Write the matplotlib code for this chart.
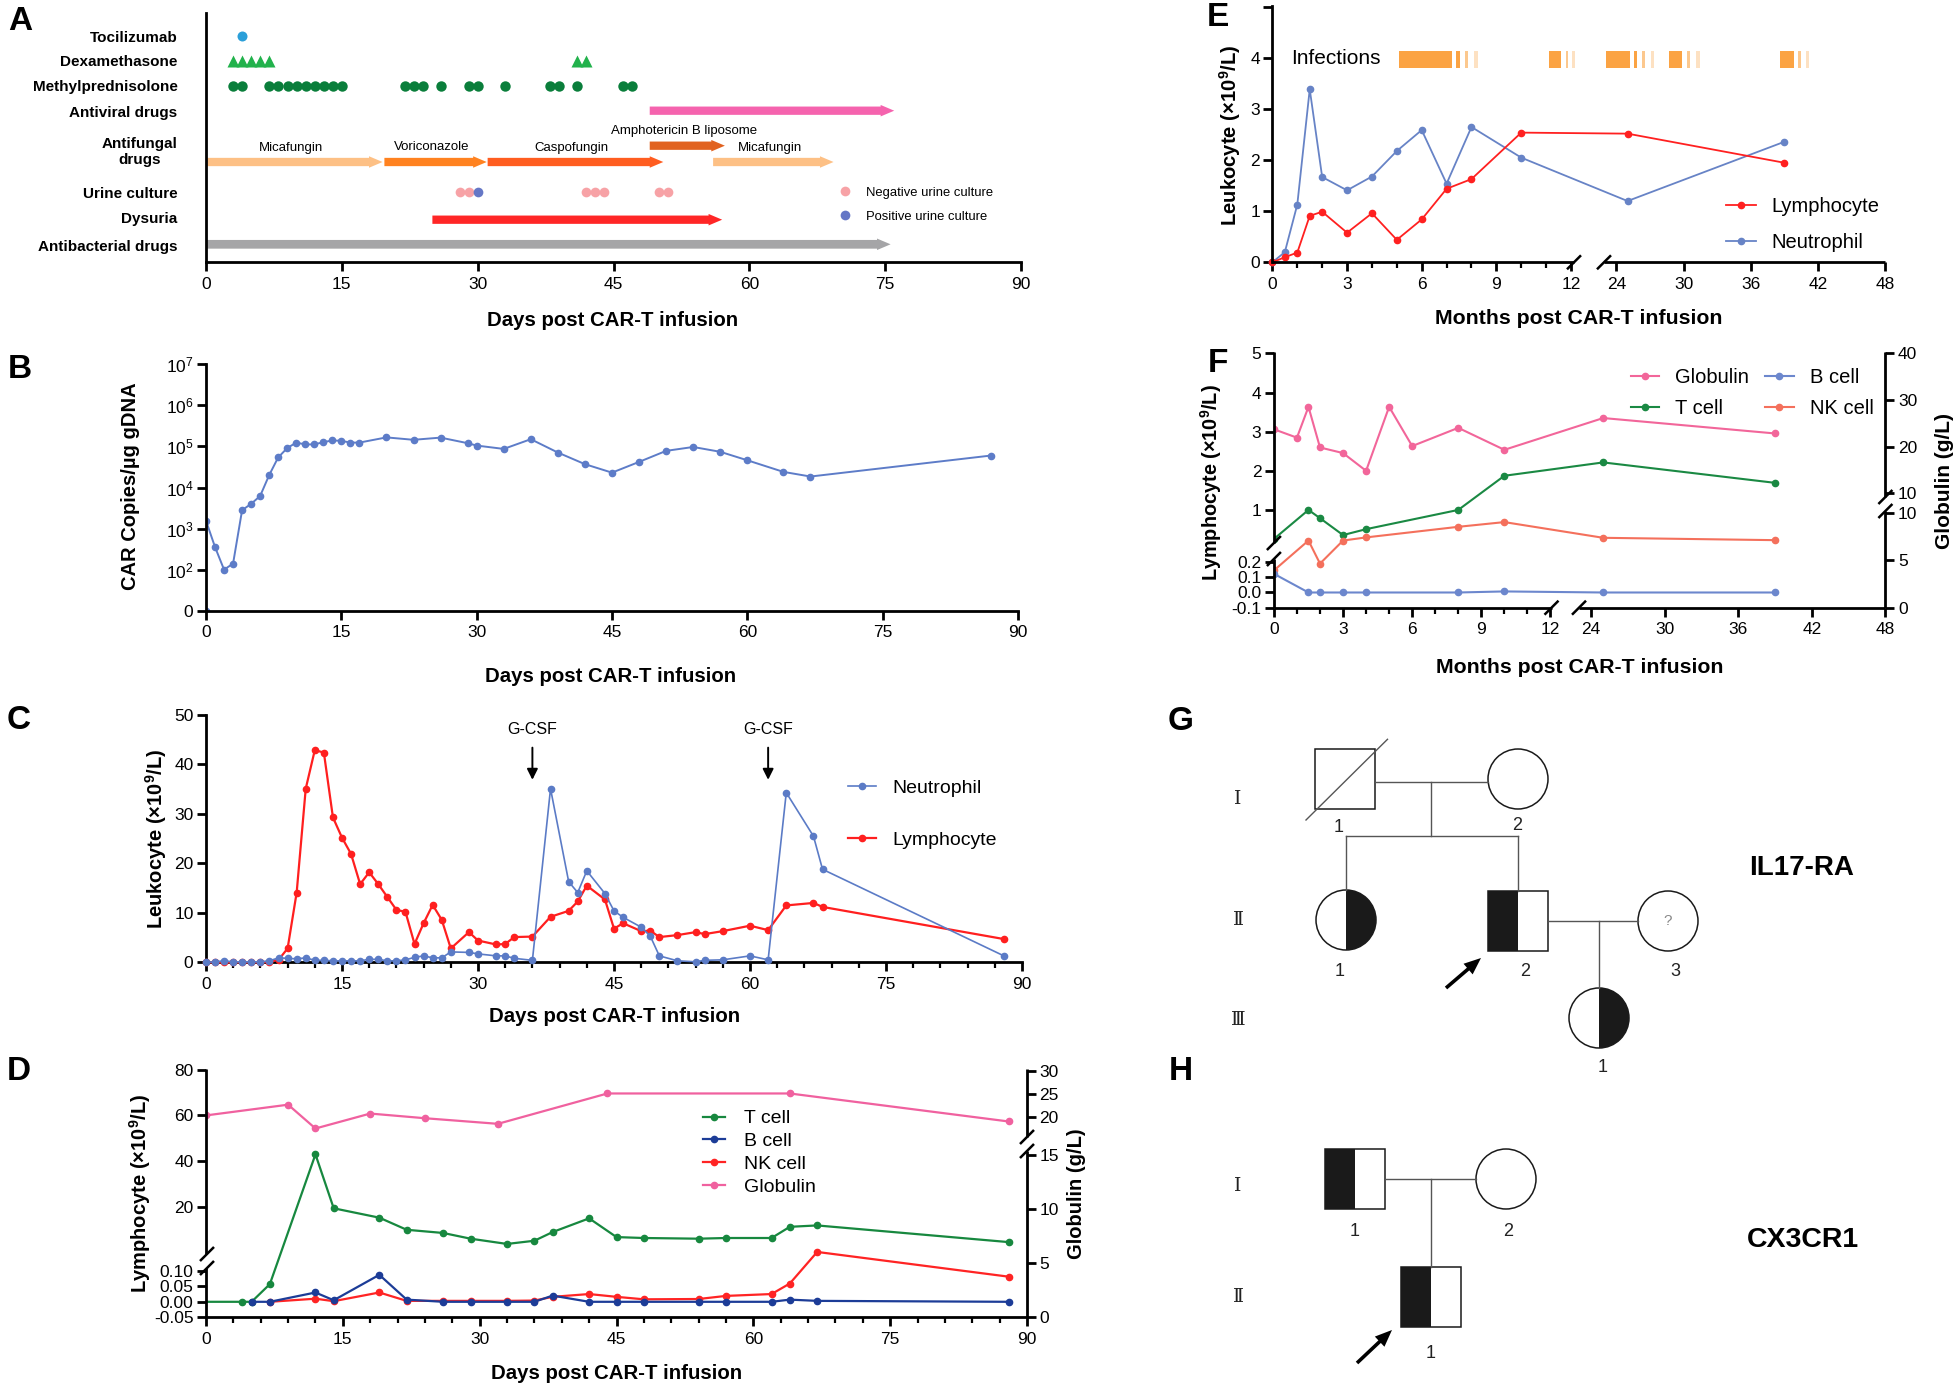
import numpy as np
import matplotlib
matplotlib.use('Agg')
import matplotlib.pyplot as plt
from matplotlib.patches import FancyArrow, Rectangle, Circle, Wedge
from matplotlib.lines import Line2D
from matplotlib.ticker import FixedLocator, NullLocator

plt.rcParams['font.family'] = ['Liberation Sans', 'DejaVu Sans']
plt.rcParams['mathtext.default'] = 'regular'
plt.rcParams['axes.unicode_minus'] = False

# ---------------- DATA ----------------
# Panel A : treatment timeline (days)
a_labels = ['Tocilizumab', 'Dexamethasone', 'Methylprednisolone', 'Antiviral drugs',
            'Antifungal\ndrugs', 'Urine culture', 'Dysuria', 'Antibacterial drugs']
toci_days = [4]
dexa_days = [3, 4, 5, 6, 7, 41, 42]
methyl_days = [3, 4, 7, 8, 9, 10, 11, 12, 13, 14, 15, 22, 23, 24, 26, 29, 30, 33, 38, 39, 41, 46, 47]
antiviral_span = [49, 76]
antifungal_names = ['Micafungin', 'Voriconazole', 'Caspofungin', 'Amphotericin B liposome', 'Micafungin']
antifungal_start = [0, 19.7, 31.1, 49, 56]
antifungal_end = [19.5, 31, 50.5, 57.3, 69.3]
antifungal_upper = [False, False, False, True, False]
urine_neg_days = [28, 29, 42, 43, 44, 50, 51]
urine_pos_days = [30]
dysuria_span = [25, 57]
antibacterial_span = [0, 75.6]

# Panel B : CAR copies
b_days = [0, 0, 1, 2, 3, 4, 5, 6, 7, 8, 9, 10, 11, 12, 13, 14, 15, 16, 17, 20, 23, 26, 29, 30,
          33, 36, 39, 42, 45, 48, 51, 54, 57, 60, 64, 67, 87]
b_copies = [0, 1550, 355, 100, 140, 2800, 4000, 6200, 2.0e4, 5.4e4, 9.1e4, 1.24e5, 1.12e5, 1.12e5,
            1.27e5, 1.4e5, 1.37e5, 1.24e5, 1.24e5, 1.66e5, 1.45e5, 1.64e5, 1.2e5, 1.05e5, 8.7e4,
            1.5e5, 7.1e4, 3.7e4, 2.3e4, 4.2e4, 7.8e4, 9.7e4, 7.4e4, 4.6e4, 2.4e4, 1.85e4, 6.0e4]

# Panel C : leukocytes (days)
c_days = [0, 1, 2, 3, 4, 5, 6, 7, 8, 9, 10, 11, 12, 13, 14, 15, 16, 17, 18, 19, 20, 21, 22, 23, 24,
          25, 26, 27, 29, 30, 32, 33, 34, 36, 38, 40, 41, 42, 44, 45, 46, 48, 49, 50, 52, 54, 55,
          57, 60, 62, 64, 67, 68, 88]
c_lymph = [0, 0, 0, 0, 0, 0, 0, 0.1, 0.5, 2.8, 14.1, 35.1, 42.9, 42.4, 29.3, 25.2, 21.9, 15.8, 18.2,
           15.8, 13.2, 10.6, 10.2, 3.7, 7.9, 11.6, 8.6, 2.8, 6.1, 4.4, 3.6, 3.7, 5.1, 5.2, 9.2, 10.4,
           12.3, 15.5, 12.7, 6.8, 7.9, 6.3, 6.4, 5.1, 5.5, 6.1, 5.7, 6.3, 7.4, 6.5, 11.5, 12.0, 11.2, 4.7]
c_neut = [0, 0.1, 0.3, 0.1, 0.1, 0.1, 0.1, 0.3, 0.9, 0.8, 0.7, 0.9, 0.4, 0.4, 0.3, 0.3, 0.3, 0.3,
          0.6, 0.6, 0.3, 0.3, 0.5, 1.0, 1.3, 0.9, 0.9, 2.1, 2.0, 1.7, 1.3, 1.3, 0.8, 0.4, 35.1,
          16.3, 14.1, 18.5, 13.9, 10.4, 9.1, 7.1, 5.3, 1.3, 0.3, 0.1, 0.4, 0.5, 1.3, 0.5, 34.3,
          25.5, 18.8, 1.3]
gcsf_days = [36, 62]

# Panel D : lymphocyte subsets (days) and globulin
d_t_days = [0, 4, 5, 7, 12, 14, 19, 22, 26, 29, 33, 36, 38, 42, 45, 48, 54, 57, 62, 64, 67, 88]
d_t = [0, 0, 0, 0.057, 42.9, 19.3, 15.2, 9.9, 8.5, 6.0, 3.7, 5.1, 8.9, 14.9, 6.7, 6.3, 6.0, 6.3,
       6.3, 11.2, 11.8, 4.5]
d_b_days = [5, 7, 12, 14, 19, 22, 26, 29, 33, 36, 38, 42, 45, 48, 54, 57, 62, 64, 67, 88]
d_b = [0, 0, 0.030, 0.005, 0.087, 0.007, 0, 0, 0, 0, 0.020, 0, 0, 0, 0, 0, 0, 0.007, 0.003, 0]
d_nk_days = [7, 12, 14, 19, 22, 26, 29, 33, 36, 38, 42, 45, 48, 54, 57, 62, 64, 67, 88]
d_nk = [0, 0.010, 0.002, 0.030, 0.003, 0.003, 0.003, 0.003, 0.004, 0.016, 0.025, 0.016, 0.008,
        0.009, 0.019, 0.025, 0.059, 0.2, 0.081]
d_glob_days = [0, 9, 12, 18, 24, 32, 44, 64, 88]
d_glob = [20.4, 22.7, 17.6, 20.8, 19.8, 18.6, 25.1, 25.1, 19.1]

# Panel E : long-term leukocytes (months)
e_months = [0, 0.5, 1, 1.5, 2, 3, 4, 5, 6, 7, 8, 10, 25, 39]
e_lymph = [0, 0.1, 0.19, 0.91, 0.99, 0.58, 0.96, 0.44, 0.84, 1.44, 1.63, 2.54, 2.52, 1.95]
e_neut = [0, 0.2, 1.13, 3.39, 1.67, 1.41, 1.68, 2.18, 2.59, 1.54, 2.65, 2.05, 1.20, 2.36]
inf_start = [5.10, 7.39, 7.74, 8.11, 11.13, 11.78, 12.03, 23.09, 25.54, 26.29, 27.08,
             28.66, 30.3, 31.09, 38.63, 40.2, 40.94]
inf_end = [7.23, 7.54, 7.86, 8.25, 11.6, 11.88, 12.17, 25.24, 25.85, 26.59, 27.38,
           29.85, 30.6, 31.44, 39.86, 40.5, 41.25]
inf_shade = [0, 0, 1, 2, 0, 1, 2, 0, 0, 1, 2, 0, 1, 2, 0, 1, 2]

# Panel F : long-term subsets (months)
f_months = [0, 1.5, 2, 3, 4, 8, 10, 25, 39]
f_t = [0.27, 1.01, 0.80, 0.37, 0.52, 1.01, 1.88, 2.22, 1.70]
f_nk = [0.145, 0.23, 0.19, 0.23, 0.31, 0.58, 0.70, 0.30, 0.24]
f_b = [0.123, 0.0, 0.0, 0.0, 0.0, 0.0, 0.007, 0.0, 0.0]
f_glob_months = [0, 1, 1.5, 2, 3, 4, 5, 6, 8, 10, 25, 39]
f_glob = [23.7, 21.9, 28.5, 19.8, 18.6, 14.8, 28.5, 20.1, 24.0, 19.3, 26.1, 22.8]

# ---------------- FIGURE ----------------
W, H = 1959, 1388
fig = plt.figure(figsize=(W / 100, H / 100), dpi=100)
SPW = 2.0


def rect(l, t, r, b):
    return [l / W, 1 - b / H, (r - l) / W, (b - t) / H]


def fline(x0, y0, x1, y1, lw=SPW, color='k'):
    fig.add_artist(Line2D([x0 / W, x1 / W], [1 - y0 / H, 1 - y1 / H], color=color, lw=lw,
                          solid_capstyle='butt'))


def fslash(xc, yc, w=7, h=7):
    fline(xc - w, yc + h, xc + w, yc - h, lw=1.8)


def ftext(x, y, s, **kw):
    fig.text(x / W, 1 - y / H, s, **kw)


def base_style(ax, hide=('top', 'right')):
    for s in ax.spines:
        ax.spines[s].set_linewidth(SPW)
    for s in hide:
        ax.spines[s].set_visible(False)
    ax.tick_params(which='major', length=6.5, width=SPW, labelsize=12.5, color='k')
    ax.tick_params(which='minor', length=4, width=1.6)
    ax.tick_params(axis='x', pad=4)
    ax.tick_params(axis='y', pad=2.5)
    ax.set_facecolor('none')


# ---------- Panel A ----------
axA = fig.add_axes(rect(206, 13.3, 1021, 262.3))
base_style(axA)
axA.set_xlim(0, 90)
axA.set_ylim(262.3, 13.3)
axA.set_xticks(np.arange(0, 91, 15))
row_label_y = [36, 61, 86, 111, 149.7, 192.3, 217, 245]
axA.set_yticks(row_label_y, labels=a_labels)
axA.tick_params(axis='y', length=0, pad=20.5, labelsize=11)
for t in axA.get_yticklabels():
    t.set_fontweight('bold')
    t.set_multialignment('center')
    t.set_linespacing(1.2)

axA.plot(toci_days, [36] * len(toci_days), 'o', color='#2b9fd9', ms=7.2, mec='none')
axA.plot(dexa_days, [61] * len(dexa_days), '^', color='#22b24c', ms=9, mec='none')
axA.plot(methyl_days, [86] * len(methyl_days), 'o', color='#0a7e3b', ms=7.5, mec='none')


def harrow(x0, x1, y, color, body=8.3, head=11.5, hl=1.5):
    axA.add_patch(FancyArrow(x0, y, x1 - x0, 0, width=body, head_width=head, head_length=hl,
                             length_includes_head=True, color=color, lw=0))


harrow(antiviral_span[0], antiviral_span[1], 110.7, '#f563ae')
af_colors = ['#fdc085', '#ff8220', '#ff5d20', '#e1621f', '#fdc085']
for nm, s, e, up, col in zip(antifungal_names, antifungal_start, antifungal_end,
                             antifungal_upper, af_colors):
    yy = 145.7 if up else 162
    harrow(s, e, yy, col)
    axA.text((s + e) / 2 - 0.4, yy - 14.5, nm, ha='center', va='center', fontsize=9.5)
axA.plot(urine_neg_days, [192.3] * len(urine_neg_days), 'o', color='#f7a2a6', ms=7, mec='none')
axA.plot(urine_pos_days, [192.3] * len(urine_pos_days), 'o', color='#6577c6', ms=7, mec='none')
harrow(dysuria_span[0], dysuria_span[1], 219.7, '#ff2626')
harrow(antibacterial_span[0], antibacterial_span[1], 244.3, '#a5a5a7', body=8.7)
hA = [Line2D([], [], ls='none', marker='o', color='#f7a2a6', ms=7, mec='none'),
      Line2D([], [], ls='none', marker='o', color='#6577c6', ms=7, mec='none')]
axA.legend(hA, ['Negative urine culture', 'Positive urine culture'], loc='center left',
           bbox_to_anchor=(0.776, 0.231), frameon=False, fontsize=9.4, handlelength=1.0,
           handletextpad=1.1, labelspacing=0.9, borderpad=0, borderaxespad=0)
ftext(613, 321, 'Days post CAR-T infusion', ha='center', va='center', fontsize=14.7,
      fontweight='bold')

# ---------- Panel B ----------
axB = fig.add_axes(rect(206, 364.3, 1018, 610.7))
base_style(axB)
axB.set_yscale('log')
axB.set_xlim(0, 90)
axB.set_ylim(10, 1e7)
b_plot = np.where(np.asarray(b_copies) > 0, np.asarray(b_copies, float), 10.0)
axB.plot(b_days, b_plot, '-o', color='#5d7cc8', lw=1.4, ms=4.5)
axB.set_xticks(np.arange(0, 91, 15))
axB.yaxis.set_major_locator(FixedLocator([1e1, 1e2, 1e3, 1e4, 1e5, 1e6, 1e7]))
axB.set_yticklabels(['0', '10$^{2}$', '10$^{3}$', '10$^{4}$', '10$^{5}$', '10$^{6}$', '10$^{7}$'])
axB.yaxis.set_minor_locator(NullLocator())
ftext(130, 486.5, 'CAR Copies/µg gDNA', rotation=90, ha='center', va='center', fontsize=14.5,
      fontweight='bold')
ftext(611, 676.5, 'Days post CAR-T infusion', ha='center', va='center', fontsize=14.7,
      fontweight='bold')

# ---------- Panel C ----------
axC = fig.add_axes(rect(206, 715, 1022, 962.3))
base_style(axC)
axC.set_xlim(0, 90)
axC.set_ylim(0, 50)
axC.set_xticks(np.arange(0, 91, 15))
axC.set_xticks(np.arange(0, 91, 3), minor=True)
axC.set_yticks(np.arange(0, 51, 10))
axC.plot(c_days, c_lymph, '-o', color='#ff1f1f', lw=1.6, ms=4.5, clip_on=False, zorder=3)
axC.plot(c_days, c_neut, '-o', color='#5b7bc6', lw=1.2, ms=4.5, clip_on=False, zorder=3)
for d in gcsf_days:
    axC.annotate('', xy=(d, 36.9), xytext=(d, 43.4),
                 arrowprops=dict(arrowstyle='-|>', color='k', lw=1.4, mutation_scale=16,
                                 shrinkA=0, shrinkB=0))
    axC.text(d, 47.0, 'G-CSF', ha='center', va='center', fontsize=11.5)
hC = [Line2D([], [], color='#5b7bc6', marker='o', lw=1.2, ms=4.5),
      Line2D([], [], color='#ff1f1f', marker='o', lw=1.6, ms=4.5)]
axC.legend(hC, ['Neutrophil', 'Lymphocyte'], loc='center left', bbox_to_anchor=(0.787, 0.60),
           frameon=False, fontsize=14, handlelength=1.45, handletextpad=0.8, labelspacing=1.75,
           borderpad=0, borderaxespad=0)
ftext(156, 839, 'Leukocyte (×10$^{9}$/L)', rotation=90, ha='center', va='center',
      fontsize=14.5, fontweight='bold')
ftext(615, 1016.7, 'Days post CAR-T infusion', ha='center', va='center', fontsize=14.7,
      fontweight='bold')


# ---------- Panel D ----------
def dL_f(v):
    v = np.asarray(v, float)
    return np.where(v <= 0.12, (v + 0.05) * 310.0, 64.9 + v * 2.285)


def dL_i(u):
    u = np.asarray(u, float)
    return np.where(u <= 0.17 * 310.0, u / 310.0 - 0.05, (u - 64.9) / 2.285)


def dR_f(v):
    v = np.asarray(v, float)
    return np.where(v <= 15.5, v * 10.84, 200.0 + (v - 20.0) * 4.67)


def dR_i(u):
    u = np.asarray(u, float)
    return np.where(u <= 15.5 * 10.84, u / 10.84, 20.0 + (u - 200.0) / 4.67)


axD = fig.add_axes(rect(206, 1069, 1027, 1317.3))
base_style(axD, hide=('top', 'right', 'left'))
axD.set_xlim(0, 90)
axD.set_yscale('function', functions=(dL_f, dL_i))
axD.set_ylim(-0.05, 80.26)
axD.set_xticks(np.arange(0, 91, 15))
axD.set_xticks(np.arange(0, 91, 3), minor=True)
axD.yaxis.set_major_locator(FixedLocator([-0.05, 0, 0.05, 0.10, 20, 40, 60, 80]))
axD.set_yticklabels(['-0.05', '0.00', '0.05', '0.10', '20', '40', '60', '80'])
axD.yaxis.set_minor_locator(NullLocator())
lT, = axD.plot(d_t_days, d_t, '-o', color='#17883f', lw=1.6, ms=4.5, markevery=list(range(1, len(d_t))))
lNK, = axD.plot(d_nk_days, d_nk, '-o', color='#ff2424', lw=1.6, ms=4.5)
lB, = axD.plot(d_b_days, d_b, '-o', color='#1c3c97', lw=1.6, ms=4.5)

axD2 = axD.twinx()
for s in axD2.spines:
    axD2.spines[s].set_visible(False)
axD2.set_yscale('function', functions=(dR_f, dR_i))
axD2.set_ylim(0, 30.34)
axD2.yaxis.set_major_locator(FixedLocator([0, 5, 10, 15, 20, 25, 30]))
axD2.set_yticklabels(['0', '5', '10', '15', '20', '25', '30'])
axD2.yaxis.set_minor_locator(NullLocator())
axD2.tick_params(axis='y', which='major', length=6.5, width=SPW, labelsize=12.5, pad=2.5)
lG, = axD2.plot(d_glob_days, d_glob, '-o', color='#f0619f', lw=1.6, ms=4.5)
axD2.legend([lT, lB, lNK, lG], ['T cell', 'B cell', 'NK cell', 'Globulin'], loc='center left',
            bbox_to_anchor=(0.605, 0.662), frameon=False, fontsize=14, handlelength=1.15,
            handletextpad=0.95, labelspacing=0.27, borderpad=0, borderaxespad=0)
# broken spines D
fline(206, 1317.3, 206, 1268)
fline(206, 1254, 206, 1069)
fslash(207, 1268)
fslash(207, 1254)
fline(1027, 1317.3, 1027, 1151)
fline(1027, 1137, 1027, 1069)
fslash(1027, 1151)
fslash(1027, 1137)
ftext(140, 1193, 'Lymphocyte (×10$^{9}$/L)', rotation=90, ha='center', va='center',
      fontsize=14.5, fontweight='bold')
ftext(1077, 1194, 'Globulin (g/L)', rotation=90, ha='center', va='center', fontsize=14.5,
      fontweight='bold')
ftext(617, 1373.3, 'Days post CAR-T infusion', ha='center', va='center', fontsize=14.7,
      fontweight='bold')


# ---------- Panel E ----------
def eX_f(m):
    m = np.asarray(m, float)
    return np.where(m <= 12.5, m * 24.9, 329.6 + (m - 22.7) * 11.2)


def eX_i(u):
    u = np.asarray(u, float)
    return np.where(u <= 12.5 * 24.9, u / 24.9, 22.7 + (u - 329.6) / 11.2)


month_major = [0, 3, 6, 9, 12, 24, 30, 36, 42, 48]
month_minor = [1, 2, 4, 5, 7, 8, 10, 11]

axE = fig.add_axes(rect(1272.4, 6, 1885, 262.3))
base_style(axE, hide=('top', 'right', 'bottom'))
axE.set_xscale('function', functions=(eX_f, eX_i))
axE.set_xlim(0, 48)
axE.set_ylim(0, 5.02)
axE.xaxis.set_major_locator(FixedLocator(month_major))
axE.set_xticklabels([str(m) for m in month_major])
axE.xaxis.set_minor_locator(FixedLocator(month_minor))
axE.yaxis.set_major_locator(FixedLocator([0, 1, 2, 3, 4, 5]))
axE.set_yticklabels(['0', '1', '2', '3', '4', ''])
inf_cols = ['#fba343', '#fcc88e', '#fde1c2']
axE.barh([3.97] * len(inf_start), np.asarray(inf_end) - np.asarray(inf_start), left=inf_start,
         height=0.345, color=[inf_cols[k] for k in inf_shade], lw=0)
axE.text(0.77, 3.99, 'Infections', ha='left', va='center', fontsize=15)
lEn, = axE.plot(e_months, e_neut, '-o', color='#6783c6', lw=1.3, ms=4.5, clip_on=False)
lEl, = axE.plot(e_months, e_lymph, '-o', color='#ff2020', lw=1.3, ms=4.5, clip_on=False)
axE.legend([lEl, lEn], ['Lymphocyte', 'Neutrophil'], loc='center left',
           bbox_to_anchor=(0.740, 0.1475), frameon=False, fontsize=14.5, handlelength=1.5,
           handletextpad=0.75, labelspacing=0.85, borderpad=0, borderaxespad=0)
fline(1272.4, 262.3, 1574, 262.3)
fline(1604, 262.3, 1885, 262.3)
fslash(1574, 262.3)
fslash(1604, 262.3)
ftext(1230.5, 135, 'Leukocyte (×10$^{9}$/L)', rotation=90, ha='center', va='center',
      fontsize=14.6, fontweight='bold')
ftext(1579, 319, 'Months post CAR-T infusion', ha='center', va='center', fontsize=15.3,
      fontweight='bold')


# ---------- Panel F ----------
def fX_f(m):
    m = np.asarray(m, float)
    return np.where(m <= 12.5, m * 23.05, 317.1 + (m - 24.0) * 12.27)


def fX_i(u):
    u = np.asarray(u, float)
    return np.where(u <= 12.5 * 23.05, u / 23.05, 24.0 + (u - 317.1) / 12.27)


def fL_f(v):
    v = np.asarray(v, float)
    return np.where(v <= 0.215, (v + 0.1) * 152.0, 58.1 + v * 39.25)


def fL_i(u):
    u = np.asarray(u, float)
    return np.where(u <= 0.315 * 152.0, u / 152.0 - 0.1, (u - 58.1) / 39.25)


def fR_f(v):
    v = np.asarray(v, float)
    return np.where(v <= 10.0, v * 9.47, 114.4 + (v - 10.0) * 4.67)


def fR_i(u):
    u = np.asarray(u, float)
    return np.where(u <= 94.7, u / 9.47, 10.0 + (u - 114.4) / 4.67)


axF = fig.add_axes(rect(1273.9, 351.7, 1885.4, 607.7))
base_style(axF, hide=('top', 'right', 'bottom', 'left'))
axF.set_xscale('function', functions=(fX_f, fX_i))
axF.set_xlim(0, 48)
axF.xaxis.set_major_locator(FixedLocator(month_major))
axF.set_xticklabels([str(m) for m in month_major])
axF.xaxis.set_minor_locator(FixedLocator(month_minor))
axF.set_yscale('function', functions=(fL_f, fL_i))
axF.set_ylim(-0.1, 5.04)
axF.yaxis.set_major_locator(FixedLocator([-0.1, 0.0, 0.1, 0.2, 1, 2, 3, 4, 5]))
axF.set_yticklabels(['-0.1', '0.0', '0.1', '0.2', '1', '2', '3', '4', '5'])
axF.yaxis.set_minor_locator(NullLocator())
lFt, = axF.plot(f_months, f_t, '-o', color='#1a8943', lw=1.5, ms=4.5)
lFnk, = axF.plot(f_months, f_nk, '-o', color='#f4705c', lw=1.5, ms=4.5)
lFb, = axF.plot(f_months, f_b, '-o', color='#6c87cd', lw=1.5, ms=4.5)
axF2 = axF.twinx()
for s in axF2.spines:
    axF2.spines[s].set_visible(False)
axF2.set_yscale('function', functions=(fR_f, fR_i))
axF2.set_ylim(0, 40.3)
axF2.yaxis.set_major_locator(FixedLocator([0, 5, 10, 10.000001, 20, 30, 40]))
axF2.set_yticklabels(['0', '5', '10', '10', '20', '30', '40'])
axF2.yaxis.set_minor_locator(NullLocator())
axF2.tick_params(axis='y', which='major', length=6.5, width=SPW, labelsize=12.5, pad=2.5)
lFg, = axF2.plot(f_glob_months, f_glob, '-o', color='#f2669a', lw=1.5, ms=4.5)
axF2.legend([lFg, lFt, lFb, lFnk], ['Globulin', 'T cell', 'B cell', 'NK cell'], ncol=2,
            loc='center left', bbox_to_anchor=(0.584, 0.839), frameon=False, fontsize=14.5,
            handlelength=1.4, handletextpad=0.8, labelspacing=0.6, columnspacing=0.8,
            borderpad=0, borderaxespad=0)
fline(1273.9, 607.7, 1551.5, 607.7)
fline(1579, 607.7, 1885.4, 607.7)
fslash(1551.5, 607.7)
fslash(1579, 607.7)
fline(1273.9, 607.7, 1273.9, 559)
fline(1273.9, 543, 1273.9, 351.7)
fslash(1273.9, 559)
fslash(1273.9, 543)
fline(1885.4, 607.7, 1885.4, 511)
fline(1885.4, 497, 1885.4, 351.7)
fslash(1885.4, 511)
fslash(1885.4, 497)
ftext(1211, 483, 'Lymphocyte (×10$^{9}$/L)', rotation=90, ha='center', va='center',
      fontsize=14.3, fontweight='bold')
ftext(1945, 481, 'Globulin (g/L)', rotation=90, ha='center', va='center', fontsize=15.0,
      fontweight='bold')
ftext(1580, 667.5, 'Months post CAR-T infusion', ha='center', va='center', fontsize=15.3,
      fontweight='bold')

# ---------- Panels G / H : pedigrees ----------
axP = fig.add_axes(rect(1170, 700, 1959, 1388))
axP.set_xlim(1170, 1959)
axP.set_ylim(1388, 700)
axP.axis('off')
PC = '#1a1a1a'
LC = '#555555'


def pl(xs, ys):
    axP.plot(xs, ys, color=LC, lw=1.0)


def square(x0, y0, half=False, s=60):
    if half:
        axP.add_patch(Rectangle((x0, y0), s / 2, s, fc=PC, ec='none'))
    axP.add_patch(Rectangle((x0, y0), s, s, fc='none', ec=PC, lw=1.1))


def circle(cx, cy, half=False, r=30):
    if half:
        axP.add_patch(Wedge((cx, cy), r, -90, 90, fc=PC, ec='none'))
    axP.add_patch(Circle((cx, cy), r, fc='none', ec=PC, lw=1.1))


def num(x, y, s):
    axP.text(x, y, s, ha='center', va='center', fontsize=13, color='#222222')


def gen(y, s):
    axP.text(1238, y, s, ha='center', va='center', fontsize=13.5,
             family=['DejaVu Serif', 'Noto Sans CJK SC', 'DejaVu Sans'], color='#222222')


def proband(x0, y0, x1, y1):
    axP.add_patch(FancyArrow(x0, y0, x1 - x0, y1 - y0, width=3.6, head_width=14, head_length=17,
                             length_includes_head=True, color='k', lw=0))


# G
square(1315, 749)
pl([1306, 1387.5], [820, 739.3])
circle(1518, 779)
pl([1375, 1488], [782, 782])
pl([1431, 1431], [782, 836])
pl([1346, 1518], [836, 836])
pl([1346, 1346], [836, 890])
pl([1518, 1518], [836, 890.7])
circle(1346, 920, half=True)
square(1488, 890.7, half=True)
pl([1548, 1638], [921, 921])
circle(1668, 921)
axP.text(1668, 921, '?', ha='center', va='center', fontsize=11, color='#888888')
pl([1599, 1599], [921, 988])
circle(1599, 1018, half=True)
num(1339, 827, '1')
num(1517, 826, '2')
num(1340, 972, '1')
num(1525, 972, '2')
num(1675, 972, '3')
num(1603, 1068, '1')
gen(799, 'Ⅰ')
gen(920, 'Ⅱ')
gen(1020, 'Ⅲ')
proband(1446, 988, 1481, 958)
axP.text(1802, 868, 'IL17-RA', ha='center', va='center', fontsize=20, fontweight='bold')

# H
square(1325, 1149, half=True)
circle(1506, 1179)
pl([1385, 1476], [1179, 1179])
pl([1431, 1431], [1179, 1267])
square(1401, 1267, half=True)
num(1355, 1232, '1')
num(1508, 1232, '2')
num(1431, 1353, '1')
gen(1186, 'Ⅰ')
gen(1297, 'Ⅱ')
proband(1357, 1363, 1392, 1330)
axP.text(1803, 1240, 'CX3CR1', ha='center', va='center', fontsize=20.5, fontweight='bold')

# panel letters
for L, (x, y) in zip('ABCDEFGH', [(20, 21), (19.4, 370), (18.7, 721), (18.7, 1072),
                                  (1218, 18), (1218, 363), (1181, 722), (1181, 1072)]):
    ftext(x, y, L, ha='center', va='center', fontsize=24, fontweight='bold')

fig.savefig('out.png', dpi=100)
